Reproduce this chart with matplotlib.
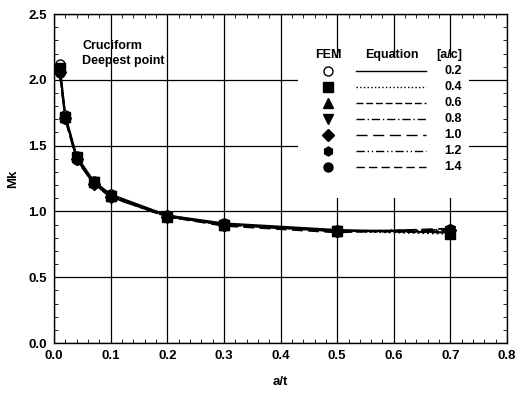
"""
Mk vs a/t -- cruciform joint, deepest point
FEM markers and equation curves for several a/c ratios.
"""

import matplotlib

matplotlib.use("Agg")
import matplotlib.pyplot as plt
from matplotlib.ticker import MultipleLocator, FormatStrFormatter

plt.rcParams["font.family"] = ["Liberation Sans", "DejaVu Sans"]
plt.rcParams["font.weight"] = "bold"

# --------------------------------------------------------------------------- #
# DATA                                                                        #
# --------------------------------------------------------------------------- #
a_t = [0.01, 0.02, 0.04, 0.07, 0.1, 0.2, 0.3, 0.5, 0.7]

a_c = ["0.2", "0.4", "0.6", "0.8", "1.0", "1.2", "1.4"]

mk_02 = [2.12, 1.73, 1.42, 1.23, 1.13, 0.97, 0.91, 0.86, 0.84]
mk_04 = [2.09, 1.72, 1.41, 1.22, 1.12, 0.96, 0.90, 0.85, 0.83]
mk_06 = [2.08, 1.72, 1.41, 1.22, 1.12, 0.97, 0.90, 0.85, 0.84]
mk_08 = [2.07, 1.71, 1.40, 1.22, 1.12, 0.96, 0.90, 0.85, 0.85]
mk_10 = [2.06, 1.71, 1.40, 1.21, 1.11, 0.96, 0.90, 0.85, 0.86]
mk_12 = [2.06, 1.70, 1.40, 1.21, 1.11, 0.96, 0.90, 0.85, 0.86]
mk_14 = [2.05, 1.70, 1.39, 1.21, 1.11, 0.96, 0.89, 0.84, 0.87]

series = [mk_02, mk_04, mk_06, mk_08, mk_10, mk_12, mk_14]

markers = ["o", "s", "^", "v", "D", "h", "o"]
filled = [False, True, True, True, True, True, True]
styles = ["-", ":", (0, (5, 2)), (0, (6, 2, 1, 2)), (0, (8, 4)),
          (0, (6, 2, 1, 2, 1, 2)), (0, (6, 3))]

# --------------------------------------------------------------------------- #
# PLOT                                                                        #
# --------------------------------------------------------------------------- #
fig = plt.figure(figsize=(5.16, 3.94), dpi=100)
ax = fig.add_axes([0.1047, 0.1294, 0.878, 0.835])

for mk, m, f, ls in zip(series, markers, filled, styles):
    ax.plot(a_t, mk, color="black", lw=1.3, ls=ls, zorder=3)
    ax.plot(a_t, mk, ls="none", marker=m, ms=6.5,
            mfc="black" if f else "white", mec="black", mew=1.0, zorder=4)

ax.set_xlim(0, 0.8)
ax.set_ylim(0, 2.5)
ax.xaxis.set_major_locator(MultipleLocator(0.1))
ax.xaxis.set_minor_locator(MultipleLocator(0.02))
ax.yaxis.set_major_locator(MultipleLocator(0.5))
ax.yaxis.set_minor_locator(MultipleLocator(0.1))
ax.grid(True, which="major", color="black", lw=0.9, zorder=1)
ax.tick_params(which="both", direction="in", top=True, right=True,
               labelsize=9.5, color="black")
ax.tick_params(which="major", length=0, pad=5)
ax.tick_params(which="minor", length=3)
ax.xaxis.set_major_formatter(FormatStrFormatter("%.1f"))
ax.yaxis.set_major_formatter(FormatStrFormatter("%.1f"))
for sp in ax.spines.values():
    sp.set_linewidth(1.0)

ax.set_xlabel("a/t", fontsize=9.5, fontweight="bold", labelpad=10)
ax.set_ylabel("Mk", fontsize=9.5, fontweight="bold", labelpad=7)

ax.text(0.062, 0.92, "Cruciform\nDeepest point", transform=ax.transAxes,
        fontsize=9, fontweight="bold", va="top", linespacing=1.25)

# legend table: FEM | Equation | [a/c]
tr = ax.transAxes
ax.add_patch(plt.Rectangle((0.538, 0.44), 0.378, 0.425, transform=tr,
                           facecolor="white", edgecolor="none", zorder=2))
ax.text(0.606, 0.895, "FEM", transform=tr, fontsize=9, ha="center", va="top")
ax.text(0.745, 0.895, "Equation", transform=tr, fontsize=9, ha="center", va="top")
ax.text(0.872, 0.895, "[a/c]", transform=tr, fontsize=9, ha="center", va="top")
for i, (lab, m, f, ls) in enumerate(zip(a_c, markers, filled, styles)):
    yy = 0.828 - i * 0.0486
    ax.plot([0.604], [yy], transform=tr, marker=m, ms=6.5, ls="none",
            mfc="black" if f else "white", mec="black", mew=1.0, zorder=5)
    ax.plot([0.666, 0.822], [yy, yy], transform=tr, color="black", lw=1.0,
            ls=ls, zorder=5)
    ax.text(0.9, yy, lab, transform=tr, fontsize=9, ha="right", va="center",
            zorder=5)

fig.savefig("out.png", dpi=100)
